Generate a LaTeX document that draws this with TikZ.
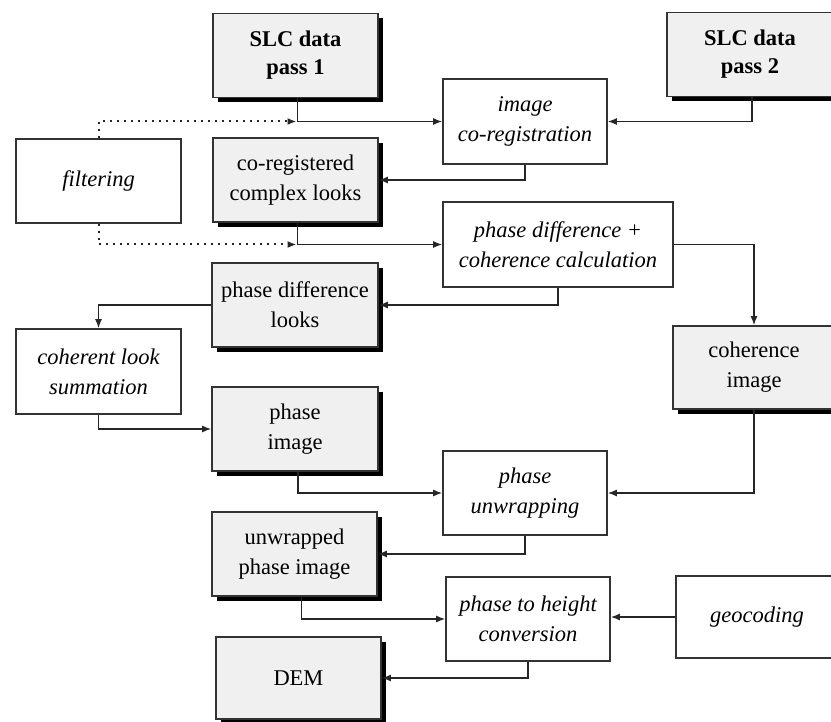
\documentclass[tikz,border=0pt]{standalone}
\usepackage{fontspec}
\setmainfont{Liberation Serif}
\usetikzlibrary{shadows,arrows.meta}
\begin{document}
\begin{tikzpicture}[x=1pt,y=-1pt,
  box/.style={draw=black!80, line width=1.6pt, inner sep=0pt, align=center,
    minimum width=165pt, minimum height=84pt,
    font=\fontsize{22.5}{30}\selectfont},
  databox/.style={box, fill=black!6,
    drop shadow={shadow xshift=5pt, shadow yshift=-5pt, fill=black, opacity=1}},
  procbox/.style={box, fill=white, font=\fontsize{22.5}{30}\selectfont\itshape},
  arr/.style={draw=black!85, line width=1.5pt, -{Latex[length=9pt,width=7pt]}},
  dotarr/.style={draw=black!85, line width=2pt, dash pattern=on 2pt off 5pt,
    -{Latex[length=9pt,width=7pt]}}
]
\clip (0,0) rectangle (831,722);
\fill[white] (0,0) rectangle (831,722);

% data boxes
\node[databox, font=\fontsize{22.5}{28}\selectfont\bfseries] (slc1) at (295.5,55.5) {SLC data\\pass 1};
\node[databox, font=\fontsize{22.5}{28}\selectfont\bfseries, minimum width=166pt] (slc2) at (750,54.5) {SLC data\\pass 2};
\node[databox] (colooks) at (295.5,180) {co-registered\\complex looks};
\node[databox, minimum width=166pt] (pdlooks) at (295,305) {phase difference\\looks};
\node[databox, minimum width=162pt, minimum height=83pt] (cohimg) at (754,367.5) {coherence\\image};
\node[databox, minimum width=166pt] (phimg) at (295,429) {phase\\image};
\node[databox] (uwimg) at (294.5,554) {unwrapped\\phase image};
\node[databox, minimum height=82pt] (dem) at (298.5,678) {DEM};

% process boxes
\node[procbox, minimum width=164pt, minimum height=85pt] (coreg) at (525,121.5) {image\\co-registration};
\node[procbox] (filt) at (98.5,181) {filtering};
\node[procbox, minimum width=230pt, minimum height=85pt] (pdcalc) at (558,244.5) {phase difference +\\coherence calculation};
\node[procbox, minimum height=85pt] (cls) at (98.5,371.5) {coherent look\\summation};
\node[procbox, minimum width=164pt] (unwrap) at (525,493) {phase\\unwrapping};
\node[procbox, minimum width=164pt] (p2h) at (528,619) {phase to height\\conversion};
\node[procbox, minimum width=162pt, minimum height=82pt] (geo) at (757,617) {geocoding};

% junction points on the main flow
\coordinate (j1) at ([xshift=1pt]slc1.south |- coreg.west);
\coordinate (j2) at ([xshift=1pt]colooks.south |- pdcalc.west);

% connectors
\draw[arr] ([xshift=2pt]slc1.south) |- (coreg.west);
\draw[arr] ([xshift=2pt]slc2.south) |- (coreg.east);
\draw[arr] (coreg.south) |- (colooks.east);
\draw[dotarr] (filt.north) |- (j1);
\draw[arr] ([xshift=2pt]colooks.south) |- (pdcalc.west);
\draw[dotarr] (filt.south) |- (j2);
\draw[arr] (pdcalc.east) -| (cohimg.north);
\draw[arr] (pdcalc.south) |- (pdlooks.east);
\draw[arr] (pdlooks.west) -| (cls.north);
\draw[arr] (cls.south) |- (phimg.west);
\draw[arr] ([xshift=3pt]phimg.south) |- (unwrap.west);
\draw[arr] (cohimg.south) |- (unwrap.east);
\draw[arr] (unwrap.south) |- (uwimg.east);
\draw[arr] ([xshift=7pt]uwimg.south) |- (p2h.west);
\draw[arr] (geo.west) -- (geo.west -| p2h.east);
\draw[arr] (p2h.south) |- (dem.east);
\end{tikzpicture}
\end{document}
